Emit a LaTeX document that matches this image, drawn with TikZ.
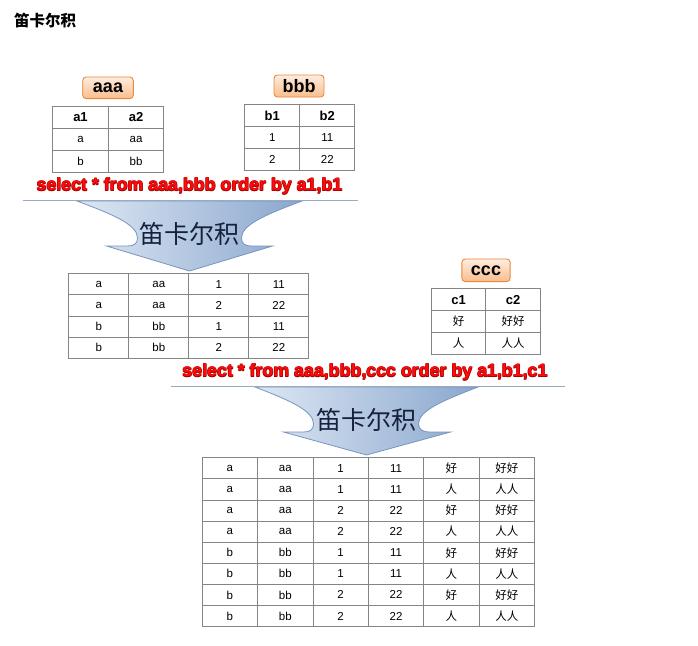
\documentclass[tikz,border=0pt]{standalone}
\usepackage{fontspec}
\setmainfont{Liberation Sans}
\newfontfamily\cjk{Noto Sans CJK SC}
\definecolor{tblgray}{HTML}{858585}
\definecolor{lblborder}{HTML}{E8893F}
\definecolor{lbltop}{HTML}{FEEDE0}
\definecolor{lblbot}{HTML}{F9BD8C}
\definecolor{arrowL}{HTML}{DDE7F3}
\definecolor{arrowR}{HTML}{8AA7CE}
\definecolor{arrowD}{HTML}{7895C0}
\definecolor{arrowT}{HTML}{16223C}
\definecolor{lineC}{HTML}{97ABC9}
\definecolor{redT}{HTML}{FF0A0A}
\definecolor{redS}{HTML}{A80000}
\begin{document}
\begin{tikzpicture}[x=1pt,y=-1pt,
  cell/.style={draw=tblgray, line width=0.9pt, inner sep=0pt, anchor=north west,
    font=\fontsize{11.5}{13}\selectfont, text=black},
  hcell/.style={cell, font=\fontsize{13}{15}\selectfont\bfseries},
  lbl/.style={draw=lblborder, line width=0.9pt, rounded corners=3.5pt,
    top color=lbltop, bottom color=lblbot, inner sep=0pt,
    font=\fontsize{18}{20}\selectfont\bfseries},
  sqltext/.style={font=\fontsize{17.8}{20}\selectfont\bfseries, inner sep=0pt, anchor=base},
  arrowshape/.style={draw=arrowD, line width=0.8pt, left color=arrowL, right color=arrowR},
  sepline/.style={draw=lineC, line width=1.4pt},
  arrowtext/.style={font=\fontsize{25}{28}\cjk, text=arrowT, inner sep=0pt},
  titletext/.style={font=\fontsize{15.5}{18}\cjk\bfseries, inner sep=0pt, anchor=west}
]
\useasboundingbox[fill=white] (0,0) rectangle (698,645);

% title
\node[titletext] (title) at (14,21) {笛卡尔积};

% labels
\node[lbl, minimum width=50.6, minimum height=21.7] (lblA) at (108,87.8) {aaa};
\node[lbl, minimum width=50, minimum height=22] (lblB) at (299,86) {bbb};
\node[lbl, minimum width=48.3, minimum height=22.7] (lblC) at (486,270.3) {ccc};

% table aaa
\foreach \t [count=\c from 0] in {a1,a2}{
  \node[hcell, minimum width=55.5, minimum height=22] (A-0-\c) at ({52.3+\c*55.5},106) {\t};}
\foreach \row [count=\r] in {{a,aa},{b,bb}}{
  \foreach \t [count=\c from 0] in \row {
    \node[cell, minimum width=55.5, minimum height=22] (A-\r-\c) at ({52.3+\c*55.5},{106+\r*22}) {\t};}}

% table bbb
\foreach \t [count=\c from 0] in {b1,b2}{
  \node[hcell, minimum width=55, minimum height=22] (B-0-\c) at ({244.3+\c*55},104) {\t};}
\foreach \row [count=\r] in {{1,11},{2,22}}{
  \foreach \t [count=\c from 0] in \row {
    \node[cell, minimum width=55, minimum height=22] (B-\r-\c) at ({244.3+\c*55},{104+\r*22}) {\t};}}

% table ccc
\foreach \t [count=\c from 0] in {c1,c2}{
  \node[hcell, minimum width=54.7, minimum height=21.9] (C-0-\c) at ({430.7+\c*54.7},288.3) {\t};}
\foreach \row [count=\r] in {{{\cjk 好},{\cjk 好好}},{{\cjk 人},{\cjk 人人}}}{
  \foreach \t [count=\c from 0] in \row {
    \node[cell, minimum width=54.7, minimum height=21.9] (C-\r-\c) at ({430.7+\c*54.7},{288.3+\r*21.9}) {\t};}}

% product table 1
\foreach \row [count=\r from 0] in {{a,aa,1,11},{a,aa,2,22},{b,bb,1,11},{b,bb,2,22}}{
  \foreach \t [count=\c from 0] in \row {
    \node[cell, minimum width=60, minimum height=21.1] (P-\r-\c) at ({68.3+\c*60},{273.3+\r*21.1}) {\t};}}

% product table 2
\foreach \row [count=\r from 0] in {
  {a,aa,1,11,{\cjk 好},{\cjk 好好}},
  {a,aa,1,11,{\cjk 人},{\cjk 人人}},
  {a,aa,2,22,{\cjk 好},{\cjk 好好}},
  {a,aa,2,22,{\cjk 人},{\cjk 人人}},
  {b,bb,1,11,{\cjk 好},{\cjk 好好}},
  {b,bb,1,11,{\cjk 人},{\cjk 人人}},
  {b,bb,2,22,{\cjk 好},{\cjk 好好}},
  {b,bb,2,22,{\cjk 人},{\cjk 人人}}}{
  \foreach \t [count=\c from 0] in \row {
    \node[cell, minimum width=55.4, minimum height=21.1] (F-\r-\c) at ({201.7+\c*55.4},{457.3+\r*21.1}) {\t};}}

% sql texts
\foreach \dx/\dy [count=\i] in {0.5/0.5,-0.5/0.5,0.5/-0.5,-0.5/-0.5}{
  \node[sqltext, text=redS] (sqlAs\i) at ({189.5+\dx},{190.5+\dy}) {select * from aaa,bbb order by a1,b1};
  \node[sqltext, text=redS] (sqlBs\i) at ({365+\dx},{376.5+\dy}) {select * from aaa,bbb,ccc order by a1,b1,c1};}
\node[sqltext, text=redT] (sqlA) at (189.5,190.5) {select * from aaa,bbb order by a1,b1};
\node[sqltext, text=redT] (sqlB) at (365,376.5) {select * from aaa,bbb,ccc order by a1,b1,c1};

% arrow 1
\begin{scope}[shift={(189.5,201)}]
\path[arrowshape] (-112.5,0) .. controls (-75,14) and (-52,24) .. (-52,37)
  .. controls (-52,43) and (-56,45) .. (-62,45) -- (-83,45) -- (0,70) -- (83,45) -- (62,45)
  .. controls (56,45) and (52,43) .. (52,37) .. controls (52,24) and (75,14) .. (112.5,0) -- cycle;
\node[arrowtext] (arrA) at (0,33) {笛卡尔积};
\end{scope}

% arrow 2
\begin{scope}[shift={(366.5,387)}]
\path[arrowshape] (-111.5,0) .. controls (-75,14) and (-53,24) .. (-53,37)
  .. controls (-53,43) and (-57,45) .. (-63,45) -- (-83,45) -- (0,68) -- (84,45) -- (63,45)
  .. controls (57,45) and (52,43) .. (52,37) .. controls (52,24) and (75,14) .. (111.5,0) -- cycle;
\node[arrowtext] (arrB) at (0,33) {笛卡尔积};
\end{scope}

% separator lines
\coordinate (L1a) at (23,200.7);
\coordinate (L1b) at (358,200.7);
\coordinate (L2a) at (171,386.7);
\coordinate (L2b) at (565,386.7);
\draw[sepline] (L1a) -- (L1b);
\draw[sepline] (L2a) -- (L2b);
\end{tikzpicture}
\end{document}
